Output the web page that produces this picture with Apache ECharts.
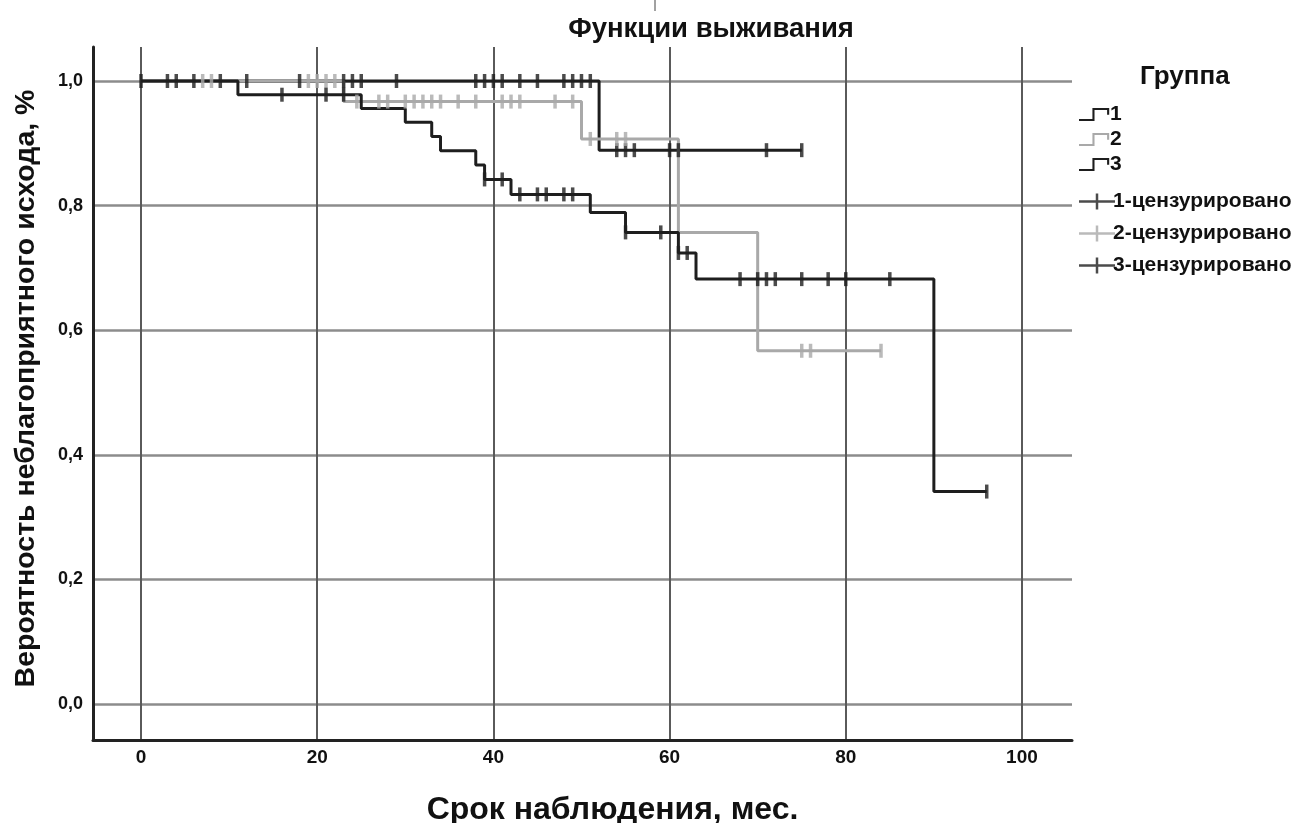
<!DOCTYPE html>
<html>
<head>
<meta charset="utf-8">
<script src="https://cdn.jsdelivr.net/npm/echarts@6/dist/echarts.min.js"></script>
<style>
html,body{margin:0;padding:0;background:#fff;}
#chart{width:1308px;height:823px;}
</style>
</head>
<body>
<div id="chart"></div>
<script>
// ---- data ----
const xTicks = [0, 20, 40, 60, 80, 100];
const yTicks = [0, 0.2, 0.4, 0.6, 0.8, 1.0];

// Kaplan-Meier steps: time of event, survival after it (last entry = end of follow-up)
const g1Times = [0, 52, 75];
const g1Surv  = [1.0, 0.889, 0.889];
const g2Times = [0, 23, 50, 61, 70, 84];
const g2Surv  = [1.0, 0.967, 0.907, 0.757, 0.567, 0.567];
const g3Times = [0, 11, 25, 30, 33, 34, 38, 39, 42, 51, 55, 61, 63, 90, 96];
const g3Surv  = [1.0, 0.978, 0.956, 0.934, 0.911, 0.888, 0.865, 0.842, 0.818, 0.789, 0.757, 0.724, 0.682, 0.341, 0.341];

// censored observations (times)
const g1Censored = [0, 3, 4, 6, 9, 12, 18, 23, 24, 25, 29, 38, 39, 40, 41, 43, 45, 48, 49, 50, 51, 54, 55, 56, 60, 61, 71, 75];
const g2Censored = [7, 8, 19, 20, 21, 22, 24.5, 27, 28, 30, 31, 32, 33, 34, 36, 38, 41, 42, 43, 47, 49, 51, 54, 55, 75, 76, 84];
const g3Censored = [16, 21, 23, 39, 41, 43, 45, 46, 48, 49, 55, 59, 61, 62, 68, 70, 71, 72, 75, 78, 80, 85, 96];

const groupNames = ['1', '2', '3'];
const censNames = ['1-цензурировано', '2-цензурировано', '3-цензурировано'];

// ---- helpers ----
function stepData(times, surv) { return times.map((t, i) => [t, surv[i]]); }
function survAt(times, surv, t) {
  let v = surv[0];
  for (let i = 0; i < times.length; i++) { if (times[i] <= t) v = surv[i]; }
  return v;
}
function censData(cens, times, surv) { return cens.map(t => [t, survAt(times, surv, t)]); }

const DARK = '#1e1e1e';
const GRAY = '#a9a9a9';
const FONT = '"Liberation Sans", Arial, sans-serif';

const stepIcon = 'path://M0,13 H16 V0 H36 V8 H33.5 V2.5 H18.5 V15.5 H0 Z';
const crossIcon = 'path://M0,6.75 H16.75 V0 H19.25 V6.75 H36 V9.25 H19.25 V16 H16.75 V9.25 H0 Z';

const lineSeries = (name, times, surv, color) => ({
  name, type: 'line', step: 'end', data: stepData(times, surv),
  symbol: 'none', lineStyle: { color, width: 3 }, itemStyle: { color },
  animation: false, z: 3
});
const censSeries = (name, cens, times, surv, color) => ({
  name, type: 'scatter', data: censData(cens, times, surv),
  symbol: 'rect', symbolSize: [3.5, 14], itemStyle: { color },
  animation: false, z: 4
});

const chart = echarts.init(document.getElementById('chart'), null, { renderer: 'canvas' });
chart.setOption({
  backgroundColor: '#fff',
  animation: false,
  textStyle: { fontFamily: FONT },
  title: [
    { text: 'Функции выживания', left: 706, top: 10, textAlign: 'center',
      textStyle: { fontFamily: FONT, fontWeight: 'bold', fontSize: 27.5, color: '#111' } },
    { text: 'Группа', left: 1135, top: 59,
      textStyle: { fontFamily: FONT, fontWeight: 'bold', fontSize: 26, color: '#111' } }
  ],
  legend: [
    { data: groupNames.map((n, i) => ({ name: n, icon: stepIcon })),
      orient: 'vertical', left: 1074, top: 99, itemWidth: 36, itemHeight: 13, itemGap: 4,
      selectedMode: false,
      textStyle: { fontFamily: FONT, fontWeight: 'bold', fontSize: 21, color: '#111', padding: [0, 0, 0, -7] } },
    { data: censNames.map(n => ({ name: n, icon: crossIcon })),
      orient: 'vertical', left: 1074, top: 186, itemWidth: 36, itemHeight: 16, itemGap: 11,
      selectedMode: false,
      textStyle: { fontFamily: FONT, fontWeight: 'bold', fontSize: 21, color: '#111', padding: [0, 0, 0, -7] } }
  ],
  grid: { left: 93, right: 236, top: 47, bottom: 83, containLabel: false, outerBoundsMode: 'none' },
  xAxis: {
    type: 'value', min: -5.45, max: 105.68,
    name: 'Срок наблюдения, мес.', nameLocation: 'middle', nameGap: 54,
    nameTextStyle: { fontFamily: FONT, fontWeight: 'bold', fontSize: 32, color: '#111', padding: [0, 0, 0, 60] },
    axisLine: { show: true, onZero: false, lineStyle: { color: '#222', width: 3 } },
    axisTick: { show: false, customValues: xTicks },
    axisLabel: { customValues: xTicks, fontFamily: FONT, fontWeight: 'bold', fontSize: 19, color: '#111', margin: 8 },
    splitLine: { show: true, lineStyle: { color: '#5a5a5a', width: 2 } }
  },
  yAxis: {
    type: 'value', min: -0.0578, max: 1.0546,
    name: 'Вероятность неблагоприятного исхода, %', nameLocation: 'middle', nameGap: 52,
    nameTextStyle: { fontFamily: FONT, fontWeight: 'bold', fontSize: 28.5, color: '#111', padding: [0, 0, 0, 10] },
    axisLine: { show: true, onZero: false, lineStyle: { color: '#222', width: 3 } },
    axisTick: { show: false, customValues: yTicks },
    axisLabel: { customValues: yTicks, fontFamily: FONT, fontWeight: 'bold', fontSize: 18, color: '#111', margin: 10,
      formatter: v => v.toFixed(1).replace('.', ',') },
    splitLine: { show: true, lineStyle: { color: '#8c8c8c', width: 2.5 } }
  },
  graphic: [
    { type: 'line', shape: { x1: 655, y1: 0, x2: 655, y2: 11 }, style: { stroke: '#444', lineWidth: 1 } }
  ],
  series: [
    lineSeries('1', g1Times, g1Surv, DARK),
    lineSeries('2', g2Times, g2Surv, GRAY),
    lineSeries('3', g3Times, g3Surv, DARK),
    censSeries('1-цензурировано', g1Censored, g1Times, g1Surv, DARK),
    censSeries('2-цензурировано', g2Censored, g2Times, g2Surv, GRAY),
    censSeries('3-цензурировано', g3Censored, g3Times, g3Surv, DARK)
  ]
});
</script>
</body>
</html>
